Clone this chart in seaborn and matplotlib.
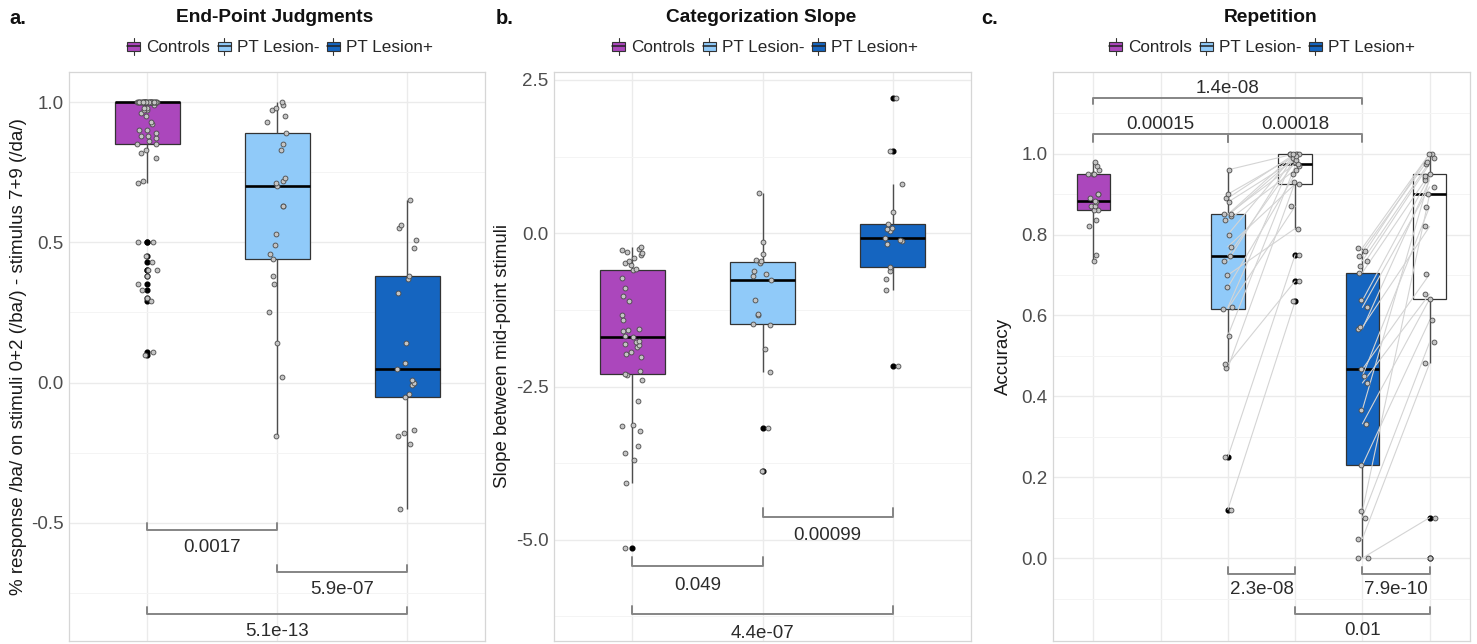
import numpy as np
import pandas as pd
import matplotlib
matplotlib.use("Agg")
import matplotlib.pyplot as plt
import seaborn as sns
from matplotlib.patches import Rectangle, Patch
from matplotlib.lines import Line2D
from matplotlib.legend_handler import HandlerBase
from matplotlib.ticker import FormatStrFormatter

sns.set_style("white")
plt.rcParams["font.family"] = ["Liberation Sans", "DejaVu Sans"]
plt.rcParams["axes.unicode_minus"] = False

# ---------------- data ----------------
GROUPS = ["Controls", "PT Lesion-", "PT Lesion+"]
COLORS = {"Controls": "#AB47BC", "PT Lesion-": "#90CAF9",
          "PT Lesion+": "#1565C0", "Repetition": "#FFFFFF"}

# Panel a: End-Point Judgments
a_controls = [0.50, 0.50, 0.45, 0.43, 0.40, 0.40, 0.38, 0.35, 0.33, 0.30, 0.29, 0.11, 0.10,
              0.71, 0.72, 0.80, 0.82, 0.83, 0.85, 0.85, 0.86,
              0.87, 0.88, 0.88, 0.89, 0.90, 0.90, 0.92, 0.93, 0.95, 0.96, 0.97, 0.97, 0.98, 0.98, 0.99,
              1.0, 1.0, 1.0, 1.0, 1.0, 1.0, 1.0, 1.0, 1.0, 1.0, 1.0, 1.0, 1.0, 1.0, 1.0, 1.0, 1.0,
              1.0, 1.0, 1.0, 1.0, 1.0, 1.0, 1.0, 1.0, 1.0, 1.0, 1.0, 1.0, 1.0, 1.0, 1.0, 1.0, 1.0,
              1.0, 1.0, 1.0]
a_lesion_neg = [-0.19, 0.02, 0.14, 0.25, 0.35, 0.38, 0.44, 0.46, 0.49, 0.53, 0.63, 0.63, 0.70,
                0.71, 0.72, 0.73, 0.83, 0.85, 0.89, 0.93, 0.95, 0.97, 0.98, 0.99, 1.0]
a_lesion_pos = [-0.45, -0.22, -0.19, -0.18, -0.17, -0.05, -0.04, -0.01, 0.0, 0.01, 0.05, 0.07,
                0.14, 0.32, 0.37, 0.38, 0.48, 0.51, 0.55, 0.56, 0.65]
a_brackets = [  # (from, to, bar, tip, label, label baseline)
    (0, 1, -0.525, -0.50, "0.0017", -0.604),
    (1, 2, -0.675, -0.65, "5.9e-07", -0.754),
    (0, 2, -0.825, -0.80, "5.1e-13", -0.904),
]

# Panel b: Categorization Slope
b_controls = [-5.14, -4.08, -3.69, -3.58, -3.47, -3.22, -3.15, -3.12, -2.73, -2.40, -2.31,
              -2.30, -2.24, -2.01, -1.97, -1.93, -1.86, -1.83, -1.80, -1.77, -1.75, -1.70,
              -1.67, -1.60, -1.58, -1.56, -1.41, -1.33, -1.11, -1.03, -0.89, -0.73, -0.60,
              -0.58, -0.51, -0.48, -0.45, -0.40, -0.36, -0.33, -0.30, -0.28, -0.26, -0.22]
b_lesion_neg = [-3.88, -3.17, -2.26, -1.89, -1.49, -1.48, -1.33, -1.31, -1.09, -0.77, -0.70,
                -0.67, -0.62, -0.48, -0.46, -0.44, -0.34, -0.15, 0.65]
b_lesion_pos = [-2.17, -0.93, -0.74, -0.61, -0.55, -0.18, -0.13, -0.11, -0.07, 0.04, 0.07,
                0.09, 0.15, 0.34, 0.81, 1.34, 2.2]
b_brackets = [
    (1, 2, -4.63, -4.48, "0.00099", -5.01),
    (0, 1, -5.43, -5.28, "0.049", -5.82),
    (0, 2, -6.21, -6.08, "4.4e-07", -6.60),
]

# Panel c: Repetition (paired first / repeated accuracy, same subject order)
c_slots = ["Controls", "Controls (repeat)", "PT Lesion- (1)", "PT Lesion- (2)",
           "PT Lesion+ (1)", "PT Lesion+ (2)"]
c_slot_fill = ["Controls", "Repetition", "PT Lesion-", "Repetition", "PT Lesion+", "Repetition"]
c_controls = [0.735, 0.75, 0.82, 0.835, 0.86, 0.86, 0.87, 0.87, 0.88, 0.884, 0.89, 0.90,
              0.90, 0.95, 0.95, 0.95, 0.96, 0.97, 0.98]
c_neg_first = [0.12, 0.25, 0.47, 0.48, 0.55, 0.617, 0.62, 0.67, 0.70, 0.735, 0.748, 0.77,
               0.80, 0.835, 0.847, 0.85, 0.85, 0.88, 0.89, 0.90, 0.96]
c_neg_rep = [0.635, 0.75, 0.93, 0.685, 0.97, 0.87, 1.0, 0.95, 0.815, 1.0, 0.98, 0.925,
             1.0, 0.96, 0.99, 1.0, 0.975, 0.985, 1.0, 0.995, 1.0]
c_pos_first = [0.0, 0.0, 0.048, 0.10, 0.116, 0.23, 0.332, 0.367, 0.433, 0.45, 0.467, 0.567,
               0.571, 0.62, 0.637, 0.706, 0.722, 0.735, 0.747, 0.759, 0.767]
c_pos_rep = [0.10, 0.0, 0.482, 0.534, 0.90, 0.588, 0.641, 0.94, 0.653, 0.869, 0.702, 0.935,
             0.82, 0.918, 0.945, 0.951, 0.975, 0.98, 1.0, 0.99, 1.0]
c_brackets_top = [  # tips pointing down
    (0, 4, 1.138, 1.123, "1.4e-08", 1.151),
    (0, 2, 1.049, 1.030, "0.00015", 1.061),
    (2, 4, 1.049, 1.030, "0.00018", 1.061),
]
c_brackets_bottom = [
    (2, 3, -0.040, -0.022, "2.3e-08", -0.089),
    (4, 5, -0.040, -0.022, "7.9e-10", -0.089),
    (3, 5, -0.138, -0.121, "0.01", -0.190),
]

# ---------------- style ----------------
W, H = 1477, 644
LINE = "#333333"
POINT_FILL = "#C4C4C4"
POINT_EDGE = "#4A4A4A"
BRACKET = "#858585"
PAIR_LINE = "#D4D4D4"
FS_TICK = 13.5
FS_LABEL = 13.5

box_kws = dict(width=0.5, saturation=1, dodge=False, linecolor=LINE, linewidth=0.9,
               fliersize=3.4, legend=False,
               flierprops=dict(marker="o", markerfacecolor="black", markeredgecolor="black"),
               medianprops=dict(color="black", linewidth=1.9),
               whiskerprops=dict(color="#4D4D4D", linewidth=1.0),
               capprops=dict(visible=False))
strip_kws = dict(color=POINT_FILL, edgecolor=POINT_EDGE, linewidth=0.6, size=3.5,
                 jitter=0.08, zorder=4, legend=False)


class BoxKeyHandler(HandlerBase):
    def create_artists(self, legend, orig_handle, xdescent, ydescent, width, height,
                       fontsize, trans):
        fc = orig_handle.get_facecolor()
        bw = width
        x0 = -xdescent
        y0 = -ydescent
        rect = Rectangle((x0, y0 + 0.2 * height), bw, 0.6 * height, facecolor=fc,
                         edgecolor=LINE, linewidth=0.8, transform=trans)
        xm = x0 + bw / 2
        mid = Line2D([x0, x0 + bw], [y0 + 0.5 * height] * 2, color="#222222", lw=1.1,
                     transform=trans)
        w1 = Line2D([xm, xm], [y0 - 0.08 * height, y0 + 0.2 * height], color=LINE, lw=0.8,
                    transform=trans)
        w2 = Line2D([xm, xm], [y0 + 0.8 * height, y0 + 1.08 * height], color=LINE, lw=0.8,
                    transform=trans)
        return [rect, mid, w1, w2]


def style_axes(ax, xlim, ylim, yticks, yminor, ylabel, label_x):
    ax.set_xlim(*xlim)
    ax.set_ylim(*ylim)
    ax.set_yticks(yticks)
    ax.set_yticks(yminor, minor=True)
    ax.yaxis.set_major_formatter(FormatStrFormatter("%.1f"))
    ax.grid(True, which="major", color="#EBEBEB", linewidth=1.0)
    ax.grid(True, which="minor", axis="y", color="#F4F4F4", linewidth=0.7)
    ax.set_axisbelow(True)
    for s in ax.spines.values():
        s.set_visible(True)
        s.set_color("#D6D6D6")
        s.set_linewidth(0.9)
    ax.tick_params(axis="both", which="major", length=2.5, width=0.8, color="#C4C4C4",
                   labelsize=FS_TICK, labelcolor="#4D4D4D", pad=1.5)
    ax.tick_params(which="minor", length=0)
    ax.tick_params(axis="x", labelbottom=False)
    ax.set_xlabel("")
    ax.set_ylabel(ylabel, fontsize=FS_LABEL, color="#1A1A1A")
    ax.yaxis.set_label_coords(label_x, 0.5)


def draw_bracket(ax, spec):
    x1, x2, bar, tip, label, ly = spec
    ax.plot([x1, x1, x2, x2], [tip, bar, bar, tip], color=BRACKET, lw=1.4, zorder=5,
            clip_on=False)
    ax.text((x1 + x2) / 2, ly, label, ha="center", va="baseline", fontsize=13.5,
            color="#2B2B2B", zorder=6)


def cat_panel(ax, lists):
    df = pd.DataFrame({"group": np.repeat(GROUPS, [len(v) for v in lists]),
                       "value": np.concatenate(lists)})
    sns.boxplot(data=df, x="group", y="value", hue="group", order=GROUPS, hue_order=GROUPS,
                palette={g: COLORS[g] for g in GROUPS}, ax=ax, **box_kws)
    sns.stripplot(data=df, x="group", y="value", order=GROUPS, ax=ax, **strip_kws)


np.random.seed(7)
fig = plt.figure(figsize=(W / 100, H / 100), dpi=100)
bottom = (H - 641) / H
height = (641 - 72) / H
ax_a = fig.add_axes([69 / W, bottom, 416 / W, height])
ax_b = fig.add_axes([554 / W, bottom, 417 / W, height])
ax_c = fig.add_axes([1053 / W, bottom, 417 / W, height])

# ---- panel a ----
cat_panel(ax_a, [a_controls, a_lesion_neg, a_lesion_pos])
for spec in a_brackets:
    draw_bracket(ax_a, spec)
style_axes(ax_a, (-0.6, 2.6), (-0.921, 1.107), [-0.5, 0.0, 0.5, 1.0],
           [-0.75, -0.25, 0.25, 0.75],
           "% response /ba/ on stimuli 0+2 (/ba/) - stimulus 7+9 (/da/)", -0.101)

# ---- panel b ----
cat_panel(ax_b, [b_controls, b_lesion_neg, b_lesion_pos])
for spec in b_brackets:
    draw_bracket(ax_b, spec)
style_axes(ax_b, (-0.6, 2.6), (-6.65, 2.63), [-5.0, -2.5, 0.0, 2.5],
           [-6.25, -3.75, -1.25, 1.25], "Slope between mid-point stimuli", -0.103)

# ---- panel c ----
c_lists = [c_controls, [], c_neg_first, c_neg_rep, c_pos_first, c_pos_rep]
c_df = pd.DataFrame({
    "slot": np.repeat(c_slots, [len(v) for v in c_lists]),
    "fill": np.repeat(c_slot_fill, [len(v) for v in c_lists]),
    "value": np.concatenate([np.asarray(v, dtype=float) for v in c_lists]),
})
sns.boxplot(data=c_df, x="slot", y="value", hue="fill", order=c_slots,
            hue_order=["Controls", "PT Lesion-", "PT Lesion+", "Repetition"],
            palette=COLORS, ax=ax_c, **box_kws)
for first, rep, slot in [(c_neg_first, c_neg_rep, "PT Lesion- (1)"),
                         (c_pos_first, c_pos_rep, "PT Lesion+ (1)")]:
    x0 = c_slots.index(slot)
    for f, r in zip(first, rep):
        ax_c.plot([x0, x0 + 1], [f, r], color=PAIR_LINE, lw=0.8, zorder=3)
sns.stripplot(data=c_df, x="slot", y="value", order=c_slots, ax=ax_c, **strip_kws)
for spec in c_brackets_top:
    x1, x2, bar, tip, label, ly = spec
    ax_c.plot([x1, x1, x2, x2], [tip, bar, bar, tip], color=BRACKET, lw=1.4, zorder=5)
    ax_c.text((x1 + x2) / 2, ly, label, ha="center", va="baseline", fontsize=13.5,
              color="#2B2B2B", zorder=6)
for spec in c_brackets_bottom:
    draw_bracket(ax_c, spec)
style_axes(ax_c, (-0.6, 5.6), (-0.205, 1.202), [0.0, 0.2, 0.4, 0.6, 0.8, 1.0],
           [-0.1, 0.1, 0.3, 0.5, 0.7, 0.9, 1.1], "Accuracy", -0.098)

# ---- titles, panel letters, legends ----
titles = ["End-Point Judgments", "Categorization Slope", "Repetition"]
title_x = [275, 761, 1271]
letters = ["a.", "b.", "c."]
letter_x = [9, 496, 981]
legend_x = [280, 765, 1262]
for t, tx, l, lx, gx in zip(titles, title_x, letters, letter_x, legend_x):
    fig.text(tx / W, 1 - 18 / H, t, ha="center", va="center", fontsize=13.8,
             fontweight="bold", color="#111111")
    fig.text(lx / W, 1 - 18 / H, l, ha="left", va="center", fontsize=14.5,
             fontweight="bold", color="#111111")
    handles = [Patch(facecolor=COLORS[g], edgecolor=LINE) for g in GROUPS]
    fig.legend(handles=handles, labels=GROUPS, loc="center",
               bbox_to_anchor=(gx / W, 1 - 47 / H), ncol=3, frameon=False, fontsize=12.3,
               handlelength=0.75, handleheight=1.0, handletextpad=0.35, columnspacing=0.45,
               borderpad=0, handler_map={Patch: BoxKeyHandler()})

fig.savefig("out.png", dpi=100)
